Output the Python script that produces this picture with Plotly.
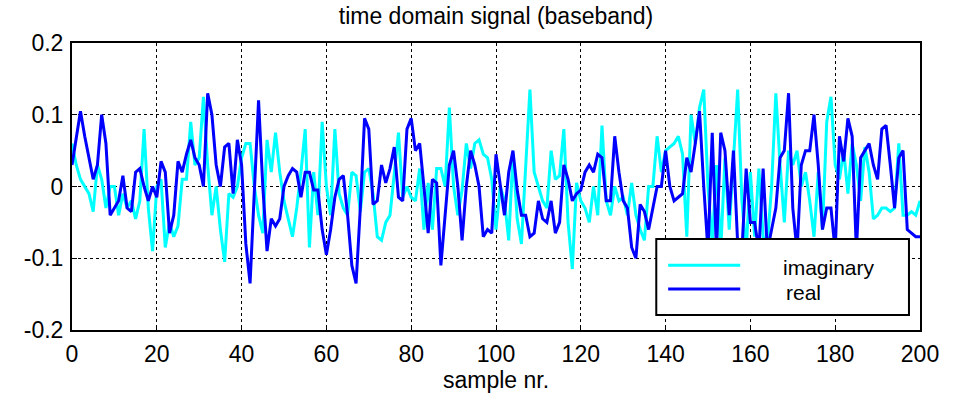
import plotly.graph_objects as go

samples = list(range(0, 201))

imaginary = [
    0.06, 0.03, 0.01, 0.0, -0.01, -0.035, 0.03, 0.01, -0.03, 0.0,
    0.0, -0.04, -0.01, -0.03, -0.02, -0.045, -0.02, 0.08, -0.03, -0.09,
    0.0, 0.01, -0.085, -0.05, -0.07, -0.055, 0.01, 0.01, 0.09, 0.03,
    0.04, 0.125, 0.03, -0.04, 0.0, -0.06, -0.105, -0.01, -0.015, 0.0,
    0.04, 0.06, 0.06, 0.0, -0.04, -0.065, 0.065, 0.02, 0.075, 0.02,
    -0.02, -0.045, -0.07, -0.03, 0.02, 0.08, -0.085, 0.02, -0.04, 0.09,
    0.0, -0.04, 0.08, -0.01, -0.03, -0.04, 0.02, 0.015, -0.035, 0.02,
    0.025, -0.01, -0.07, -0.075, -0.05, -0.04, 0.02, 0.075, -0.015, 0.0,
    -0.015, -0.02, 0.025, -0.06, 0.005, -0.06, 0.025, 0.025, 0.0, 0.11,
    0.0, -0.04, -0.005, 0.06, 0.025, 0.06, 0.065, 0.045, 0.04, 0.01,
    -0.06, 0.0, -0.02, -0.075, 0.045, -0.045, -0.08, 0.025, 0.135, 0.02,
    0.0, -0.02, -0.03, 0.05, 0.01, 0.015, 0.08, -0.05, -0.115, 0.005,
    -0.02, -0.03, -0.05, 0.0, -0.04, 0.085, -0.02, -0.04, 0.0, -0.02,
    -0.015, -0.04, 0.005, -0.04, -0.06, -0.075, 0.0, 0.0, 0.07, 0.02,
    0.05, 0.055, 0.06, 0.07, 0.045, -0.07, 0.1, 0.06, 0.11, 0.135,
    0.0, -0.08, 0.03, -0.09, 0.04, -0.06, 0.04, 0.135, -0.02, -0.09,
    0.02, -0.07, 0.025, -0.07, -0.08, 0.0, 0.13, 0.03, -0.05, 0.05,
    0.03, 0.05, 0.0, 0.02, -0.02, -0.07, 0.02, -0.06, 0.09, 0.125,
    0.03, 0.01, 0.05, -0.01, 0.06, 0.03, -0.02, 0.055, 0.02, -0.045,
    -0.04, -0.03, -0.03, -0.035, -0.03, 0.06, -0.04, -0.04, -0.035, -0.04,
    -0.02,
]

real = [
    0.03, 0.07, 0.105, 0.07, 0.04, 0.01, 0.03, 0.10, 0.06, -0.04,
    -0.03, -0.02, 0.015, -0.03, -0.035, 0.02, 0.025, 0.0, -0.02, 0.0,
    -0.015, 0.035, 0.02, -0.065, -0.04, 0.035, 0.02, 0.045, 0.065, 0.04,
    0.03, 0.0, 0.13, 0.10, 0.03, 0.0, 0.055, 0.06, -0.01, 0.065,
    0.03, -0.08, -0.135, 0.0, 0.12, 0.0, -0.09, -0.045, -0.055, -0.045,
    0.0, 0.015, 0.025, 0.02, -0.015, 0.02, 0.02, -0.005, -0.005, -0.06,
    -0.095, -0.06, -0.015, 0.01, 0.015, -0.04, -0.11, -0.135, -0.03, 0.095,
    0.08, -0.025, -0.02, 0.03, 0.005, 0.025, 0.055, -0.015, -0.02, 0.08,
    0.095, 0.05, 0.06, 0.0, -0.065, 0.01, 0.005, -0.11, -0.04, 0.03,
    0.05, 0.0, -0.075, 0.0, 0.05, 0.03, 0.0, -0.07, -0.06, -0.065,
    0.045, 0.0, -0.04, 0.02, 0.05, -0.005, -0.04, -0.04, -0.07, -0.065,
    -0.02, -0.045, -0.05, -0.02, -0.065, -0.05, 0.03, 0.01, -0.02, -0.01,
    -0.005, 0.02, 0.03, 0.02, 0.045, 0.04, -0.02, -0.02, 0.07, 0.02,
    -0.02, -0.03, -0.085, -0.1, -0.025, -0.035, -0.06, -0.03, 0.0, 0.0,
    0.05, 0.0, -0.02, -0.015, -0.01, 0.04, 0.02, 0.06, 0.105, 0.0,
    -0.09, 0.075, -0.09, 0.075, 0.05, -0.04, 0.05, -0.08, -0.09, 0.025,
    -0.05, -0.05, -0.09, 0.025, -0.09, -0.06, -0.03, 0.04, 0.05, 0.13,
    -0.03, -0.09, 0.03, 0.05, 0.05, 0.10, 0.03, -0.06, -0.03, -0.03,
    -0.09, 0.07, 0.035, 0.095, 0.07, -0.09, 0.04, 0.05, 0.06, 0.03,
    0.01, 0.08, 0.085, 0.03, -0.03, 0.04, 0.05, -0.06, -0.065, -0.07,
    -0.07,
]

n = min(len(samples), len(imaginary), len(real))

x_ticks = [0, 20, 40, 60, 80, 100, 120, 140, 160, 180, 200]
y_ticks = [-0.2, -0.1, 0, 0.1, 0.2]
y_labels = ["-0.2", "-0.1", "0", "0.1", "0.2"]
series_names = ["imaginary", "real"]
series_colors = ["#00FFFF", "#0000FF"]

FONT = "Liberation Sans, Arial, Helvetica, sans-serif"

fig = go.Figure()
fig.add_trace(go.Scatter(x=samples[:n], y=imaginary[:n], mode="lines",
                         name=series_names[0],
                         line=dict(color=series_colors[0], width=3)))
fig.add_trace(go.Scatter(x=samples[:n], y=real[:n], mode="lines",
                         name=series_names[1],
                         line=dict(color=series_colors[1], width=3)))

axis_common = dict(
    showline=True, linecolor="black", linewidth=2, mirror=True,
    showgrid=True, gridcolor="black", griddash="dot", gridwidth=1,
    zeroline=False, ticks="inside", ticklen=5, tickcolor="black",
    tickfont=dict(family=FONT, size=23, color="black"),
)

fig.update_layout(
    width=965, height=403,
    margin=dict(l=72, r=45, t=43, b=73),
    paper_bgcolor="white", plot_bgcolor="white",
    showlegend=False,
    title=dict(text="time domain signal (baseband)", x=0.514, xanchor="center",
               y=0.96, yanchor="middle",
               font=dict(family=FONT, size=23, color="black")),
    xaxis=dict(range=[0, 200], tickvals=x_ticks, ticklabelstandoff=2,
               title=dict(text="sample nr.", standoff=4,
                          font=dict(family=FONT, size=23, color="black")),
               **axis_common),
    yaxis=dict(range=[-0.2, 0.2], tickvals=y_ticks, ticktext=y_labels,
               ticklabelstandoff=2, **axis_common),
)

# Manual MATLAB-style legend box
lx0, lx1, ly0, ly1 = 0.689, 0.987, 0.052, 0.317
fig.add_shape(type="rect", xref="paper", yref="paper",
              x0=lx0, x1=lx1, y0=ly0, y1=ly1,
              fillcolor="white", line=dict(color="black", width=2), layer="above")
legend_rows = [0.226, 0.143]
for name, color, yy in zip(series_names, series_colors, legend_rows):
    fig.add_shape(type="line", xref="paper", yref="paper",
                  x0=0.703, x1=0.788, y0=yy, y1=yy,
                  line=dict(color=color, width=3), layer="above")
fig.add_annotation(xref="paper", yref="paper", x=0.836, y=0.219,
                   text=series_names[0], showarrow=False, xanchor="left",
                   yanchor="middle", font=dict(family=FONT, size=21, color="black"))
fig.add_annotation(xref="paper", yref="paper", x=0.840, y=0.132,
                   text=series_names[1], showarrow=False, xanchor="left",
                   yanchor="middle", font=dict(family=FONT, size=21, color="black"))

fig.write_html("out.html")
